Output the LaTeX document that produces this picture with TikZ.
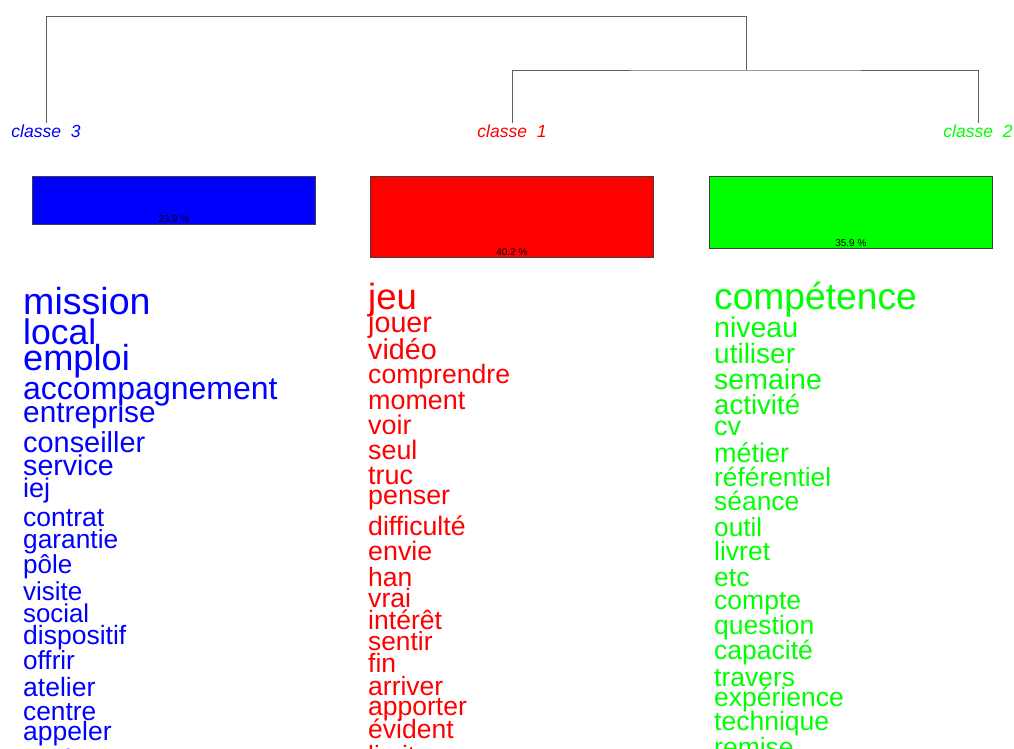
\documentclass[tikz,border=0pt]{standalone}
\usepackage{fontspec}
\setmainfont{Liberation Sans}
\usepackage{xcolor}
\usepackage{tikz}
\usetikzlibrary{positioning}

\definecolor{classblue}{RGB}{0,0,255}
\definecolor{classred}{RGB}{255,0,0}
\definecolor{classgreen}{RGB}{0,255,0}
\definecolor{treegray}{RGB}{95,95,95}

\begin{document}
\begin{tikzpicture}[x=1pt, y=-1pt,
    tree/.style={draw=treegray, line width=0.8pt},
    classlabel/.style={font=\fontsize{17.5}{17.5}\selectfont\itshape, anchor=base, inner sep=1.5pt},
    bar/.style={draw=black!75, line width=0.8pt, minimum width=283pt, anchor=north west, inner sep=0pt},
    pct/.style={font=\fontsize{10}{10}\selectfont, inner sep=0pt},
    word/.style={anchor=base west, inner sep=0pt}]
    \useasboundingbox (0,0) rectangle (1014,749);
    \clip (0,0) rectangle (1014,749);

    % class labels and tree
    \node [classlabel, text=classblue] (cl3) at (46,137) {classe~~3};
    \node [classlabel, text=classred] (cl1) at (512,137) {classe~~1};
    \node [classlabel, text=classgreen] (cl2) at (978,137) {classe~~2};
    \coordinate (root) at (746,16);
    \coordinate (join12) at (746,70);
    \draw[tree] (cl3.north) |- (root) -- (join12);
    \draw[tree] (cl1.north) |- (join12) -| (cl2.north);

    % class size bars
    \node [bar, fill=classblue, minimum height=48pt] (bar3) at (32,176) {};
    \node [bar, fill=classred, minimum height=81pt] (bar1) at (370,176) {};
    \node [bar, fill=classgreen, minimum height=72pt] (bar2) at (709,176) {};
    \node [pct, above=2pt of bar3.south] (pct3) {23.9 \%};
    \node [pct, above=2pt of bar1.south] (pct1) {40.2 \%};
    \node [pct, above=2pt of bar2.south] (pct2) {35.9 \%};

    % words of each class
    \foreach \w/\y/\s [count=\i] in {mission/314/37.6, local/344/35.5, emploi/370/36.2,
        accompagnement/399/32, entreprise/422/29.8, conseiller/452/28.9, service/475/28.6,
        iej/497/27, contrat/526/26.5, garantie/548/26.3, pôle/573/26, visite/600/26,
        social/622/25.8, dispositif/644/26.5, offrir/669/26.1, atelier/696/26.5,
        centre/720/26.3, appeler/740/26.5, collègue/768/26.3}
        \node [word, text=classblue, font=\fontsize{\s}{\s}\selectfont] (blue\i) at (23,\y) {\w};

    \foreach \w/\y/\s [count=\i] in {jeu/309/36.5, jouer/332/28.7, vidéo/359/28.7,
        comprendre/383/26.6, moment/409/26.9, voir/434/27, seul/459/26.8, truc/484/27,
        penser/504/26.8, difficulté/535/26.7, envie/560/26.8, han/586/26.5, vrai/607/26.6,
        intérêt/629/26.6, sentir/650/26.3, fin/672/26.5, arriver/695/26.5,
        apporter/715/26.5, évident/738/26.5, limite/764/26.5}
        \node [word, text=classred, font=\fontsize{\s}{\s}\selectfont] (red\i) at (368,\y) {\w};

    \foreach \w/\y/\s [count=\i] in {compétence/309/37.2, niveau/337/28.5, utiliser/363/28,
        semaine/389/28.5, activité/414/27.6, cv/435/27, métier/462/27, référentiel/486/26.3,
        séance/510/26.4, outil/536/26.2, livret/560/26.5, etc/586/26.5, compte/609/26.5,
        question/634/26.5, capacité/659/26.5, travers/686/26.5, expérience/706/26.5,
        technique/730/26.5, remise/756/26.5}
        \node [word, text=classgreen, font=\fontsize{\s}{\s}\selectfont] (green\i) at (714,\y) {\w};
\end{tikzpicture}
\end{document}
